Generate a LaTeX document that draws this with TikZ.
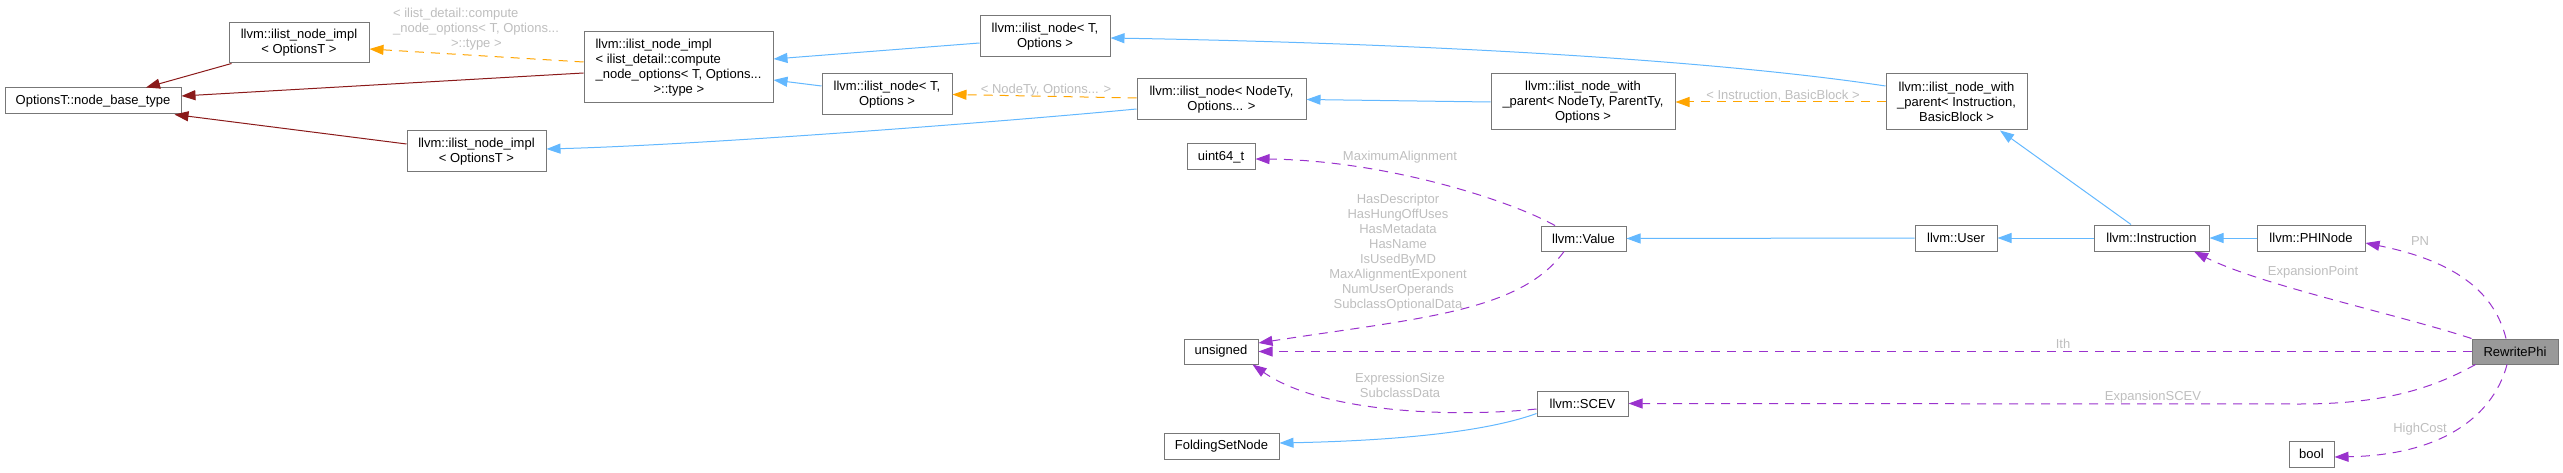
\documentclass[tikz,border=0pt]{standalone}
\usepackage{fontspec}
\setmainfont{Liberation Sans}
\usetikzlibrary{arrows.meta,calc}
\definecolor{edgeblue}{HTML}{63B8FF}
\definecolor{edgered}{HTML}{8B1A1A}
\definecolor{edgeorange}{HTML}{FFA500}
\definecolor{edgepurple}{HTML}{9A32CD}
\definecolor{lblgray}{HTML}{BEBEBE}
\definecolor{nodeborder}{HTML}{777777}
\definecolor{rpfill}{HTML}{999999}
\begin{document}
\begin{tikzpicture}[x=1pt,y=-1pt,
  every node/.style={font=\fontsize{13}{15}\selectfont},
  box/.style={draw=nodeborder, line width=1pt, fill=white, inner sep=2pt, align=center},
  lbl/.style={text=lblgray, inner sep=0pt, align=center},
  tip/.style={-{Triangle[length=14pt,width=10pt]}},
  inh/.style={tip, draw=edgeblue, line width=1pt},
  inhred/.style={tip, draw=edgered, line width=1pt},
  tmpl/.style={tip, draw=edgeorange, line width=1pt, dash pattern=on 9pt off 7pt},
  usage/.style={tip, draw=edgepurple, line width=1pt, dash pattern=on 9pt off 7pt}]
\useasboundingbox (0,0) rectangle (2563,473);

% nodes
\node[box, minimum width=176pt, minimum height=26pt] (nbt) at (93,101) {OptionsT::node\_base\_type};
\node[box, minimum width=140pt, minimum height=40pt] (implA) at (299,43) {llvm::ilist\_node\_impl\\< OptionsT >};
\node[box, minimum width=139pt, minimum height=41pt] (implB) at (476.5,151.5) {llvm::ilist\_node\_impl\\< OptionsT >};
\node[box, align=left, minimum width=189pt, minimum height=71pt] (implC) at (678.5,67.5) {llvm::ilist\_node\_impl\\< ilist\_detail::compute\\\_node\_options< T, Options...\\\hspace*{58pt}>::type >};
\node[box, minimum width=130pt, minimum height=41pt] (nodeT1) at (1045,36.5) {llvm::ilist\_node< T,\\Options >};
\node[box, minimum width=130pt, minimum height=41pt] (nodeT2) at (887,94.5) {llvm::ilist\_node< T,\\Options >};
\node[box, minimum width=169pt, minimum height=41pt] (nodeNT) at (1221.5,99.5) {llvm::ilist\_node< NodeTy,\\Options... >};
\node[box, minimum width=184pt, minimum height=56pt] (wpNT) at (1583,102) {llvm::ilist\_node\_with\\\_parent< NodeTy, ParentTy,\\Options >};
\node[box, minimum width=141pt, minimum height=56pt] (wpI) at (1956.5,102) {llvm::ilist\_node\_with\\\_parent< Instruction,\\BasicBlock >};
\node[box, minimum width=68pt, minimum height=26pt] (u64) at (1221,157) {uint64\_t};
\node[box, minimum width=85pt, minimum height=25pt] (value) at (1583.5,238.5) {llvm::Value};
\node[box, minimum width=82pt, minimum height=26pt] (user) at (1956,238) {llvm::User};
\node[box, minimum width=115pt, minimum height=26pt] (instr) at (2151.5,238) {llvm::Instruction};
\node[box, minimum width=108pt, minimum height=26pt] (phi) at (2311,238) {llvm::PHINode};
\node[box, minimum width=74pt, minimum height=25pt] (unsigned) at (1221,351.5) {unsigned};
\node[box, minimum width=91pt, minimum height=25pt] (scev) at (1582.5,403.5) {llvm::SCEV};
\node[box, minimum width=115pt, minimum height=26pt] (fsn) at (1221.5,446) {FoldingSetNode};
\node[box, fill=rpfill, minimum width=86pt, minimum height=25pt] (rp) at (2515,351.5) {RewritePhi};
\node[box, minimum width=45pt, minimum height=26pt] (bool) at (2311.5,454) {bool};

% edge labels
\node[lbl, align=left] (l1) at (476,29) {< ilist\_detail::compute\\\_node\_options< T, Options...\\\hspace*{58pt}>::type >};
\node[lbl] (l2) at (1046,90) {< NodeTy, Options... >};
\node[lbl] (l3) at (1783,96) {< Instruction, BasicBlock >};
\node[lbl] (l4) at (1400,157) {MaximumAlignment};
\node[lbl] (l5) at (1398,252.5) {HasDescriptor\\HasHungOffUses\\HasMetadata\\HasName\\IsUsedByMD\\MaxAlignmentExponent\\NumUserOperands\\SubclassOptionalData};
\node[lbl] (l6) at (1400,385.5) {ExpressionSize\\SubclassData};
\node[lbl] (l7) at (2420,241) {PN};
\node[lbl] (l8) at (2313,272) {ExpansionPoint};
\node[lbl] (l9) at (2063,344) {Ith};
\node[lbl] (l10) at (2153,397) {ExpansionSCEV};
\node[lbl] (l11) at (2420,429) {HighCost};

% inheritance (blue)
\draw[inh] ($(nodeT1.west)+(0,6.5)$) -- ($(implC.east)+(0,-8.5)$);
\draw[inh] ($(nodeT2.west)+(0,-8.5)$) -- ($(implC.east)+(0,12.5)$);
\draw[inh] ($(nodeNT.west)+(0,9.5)$) .. controls (1000,122) and (700,145) .. ($(implB.east)+(0,-2.5)$);
\draw[inh] (wpNT.west) -- (nodeNT.east);
\draw[inh] ($(wpI.west)+(0,-16)$) .. controls (1700,58) and (1400,43) .. ($(nodeT1.east)+(0,1.5)$);
\draw[inh] ($(instr.north)+(-20.5,0)$) -- ($(wpI.south)+(43.5,0)$);
\draw[inh] (user.west) -- (value.east);
\draw[inh] (instr.west) -- (user.east);
\draw[inh] (phi.west) -- (instr.east);
\draw[inh] ($(scev.west)+(0,10)$) .. controls (1480,434) and (1380,441) .. ($(fsn.east)+(0,-3)$);

% dark red
\draw[inhred] ($(implA.south west)+(3,0)$) -- ($(nbt.north)+(53,0)$);
\draw[inhred] ($(implC.west)+(0,5.5)$) -- ($(nbt.east)+(0,-5)$);
\draw[inhred] ($(implB.west)+(0,-7.5)$) -- ($(nbt.south east)+(-7,0)$);

% template instances (orange)
\draw[tmpl] ($(implC.west)+(0,-5.5)$) -- ($(implA.east)+(0,6)$);
\draw[tmpl] ($(nodeNT.west)+(0,-1.5)$) -- (nodeT2.east);
\draw[tmpl] (wpI.west) -- (wpNT.east);

% usage (purple)
\draw[usage] ($(value.north)+(-28.5,0)$) .. controls (1505,198) and (1380,160) .. ($(u64.east)+(0,2)$);
\draw[usage] ($(value.south)+(-19.5,0)$) .. controls (1520,312) and (1420,318) .. ($(unsigned.east)+(0,-8.5)$);
\draw[usage] (rp.west) -- (unsigned.east);
\draw[usage] ($(scev.west)+(0,5.5)$) .. controls (1450,418) and (1320,412) .. ($(unsigned.south east)+(-6,0)$);
\draw[usage] ($(rp.south west)+(4,0)$) .. controls (2430,390) and (2380,404) .. (2300,404) -- (scev.east);
\draw[usage] (rp.north west) .. controls (2400,315) and (2260,285) .. ($(instr.south)+(42.5,0)$);
\draw[usage] ($(rp.north)+(-9,0)$) .. controls (2495,295) and (2460,262) .. ($(phi.east)+(0,5)$);
\draw[usage] ($(rp.south)+(-8,0)$) .. controls (2495,410) and (2450,455) .. ($(bool.east)+(0,3)$);
\end{tikzpicture}
\end{document}
